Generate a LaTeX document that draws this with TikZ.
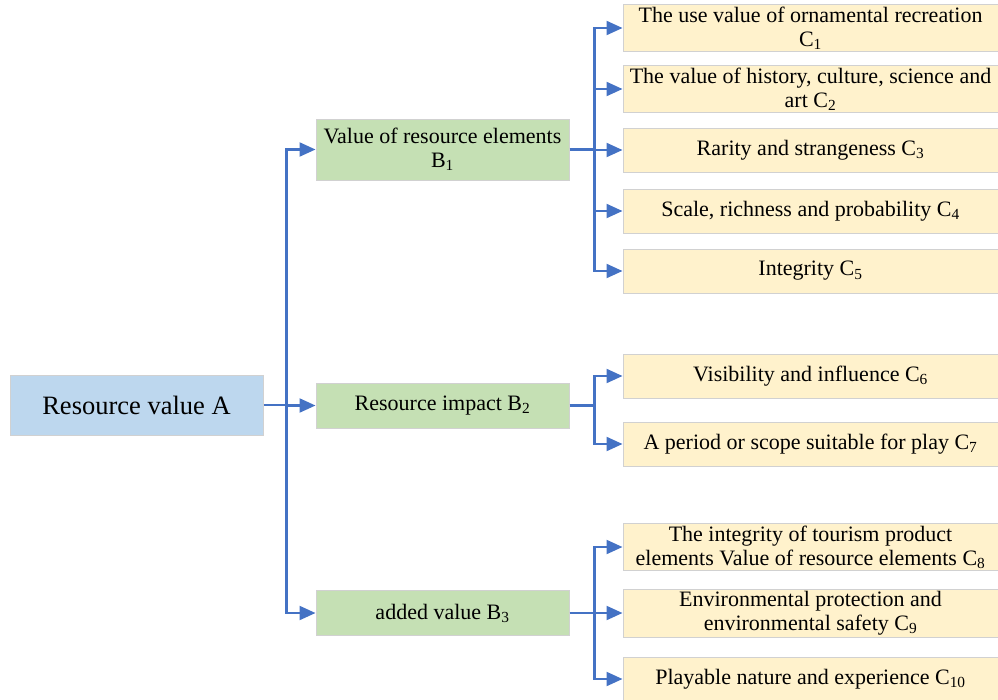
\documentclass[tikz,border=0pt]{standalone}
\usepackage{fontspec}
\setmainfont{Liberation Serif}
\usetikzlibrary{arrows.meta,calc}
\definecolor{goalblue}{HTML}{BDD7EE}
\definecolor{factorgreen}{HTML}{C5E0B4}
\definecolor{itemyellow}{HTML}{FFF2CC}
\definecolor{linkblue}{HTML}{4472C4}
\tikzset{
  box/.style={draw=black!18, line width=1pt, align=center, inner sep=2pt,
    font=\fontsize{22}{24}\selectfont},
  goalbox/.style={box, fill=goalblue, minimum width=253pt, minimum height=60pt,
    font=\fontsize{26.5}{28}\selectfont},
  factorbox/.style={box, fill=factorgreen, minimum width=253pt, minimum height=45pt},
  itembox/.style={box, fill=itemyellow, minimum width=375pt, minimum height=44pt},
  link/.style={draw=linkblue, line width=2.2pt},
  arrowlink/.style={link, -{Triangle[length=16pt,width=14pt]}},
}
\begin{document}
\begin{tikzpicture}[x=1pt,y=-1pt]
\useasboundingbox (0,0) rectangle (998,699);

% target layer
\node[goalbox] (a) at (136.5,405) {Resource value A};

% criterion layer
\node[factorbox, minimum height=61pt] (b1) at (442.5,149.5) {Value of resource elements\\B\textsubscript{1}};
\node[factorbox] (b2) at (442.5,405.5) {Resource impact B\textsubscript{2}};
\node[factorbox] (b3) at (442.5,613) {added value B\textsubscript{3}};

% indicator layer
\node[itembox] (c1) at (810.5,28) {The use value of ornamental recreation\\C\textsubscript{1}};
\node[itembox] (c2) at (810.5,89) {The value of history, culture, science and\\art C\textsubscript{2}};
\node[itembox] (c3) at (810.5,150) {Rarity and strangeness C\textsubscript{3}};
\node[itembox] (c4) at (810.5,211) {Scale, richness and probability C\textsubscript{4}};
\node[itembox] (c5) at (810.5,271) {Integrity C\textsubscript{5}};
\node[itembox] (c6) at (810.5,376) {Visibility and influence C\textsubscript{6}};
\node[itembox] (c7) at (810.5,444) {A period or scope suitable for play C\textsubscript{7}};
\node[itembox] (c8) at (810.5,547) {The integrity of tourism product\\elements Value of resource elements C\textsubscript{8}};
\node[itembox] (c9) at (810.5,613) {Environmental protection and\\environmental safety C\textsubscript{9}};
\node[itembox] (c10) at (810.5,679) {Playable nature and experience C\textsubscript{10}};

% connectors
\coordinate (ja) at ($(a.east)+(23,0)$);
\draw[link] (a.east) -- (ja);
\foreach \b in {b1,b2,b3}
  \draw[arrowlink] (ja) |- (\b.west);

\coordinate (jb1) at ($(b1.east)+(25,0)$);
\draw[link] (b1.east) -- (jb1);
\foreach \c in {c1,c2,c3,c4,c5}
  \draw[arrowlink] (jb1) |- (\c.west);

\coordinate (jb2) at ($(b2.east)+(25,0)$);
\draw[link] (b2.east) -- (jb2);
\foreach \c in {c6,c7}
  \draw[arrowlink] (jb2) |- (\c.west);

\coordinate (jb3) at ($(b3.east)+(25,0)$);
\draw[link] (b3.east) -- (jb3);
\foreach \c in {c8,c9,c10}
  \draw[arrowlink] (jb3) |- (\c.west);
\end{tikzpicture}
\end{document}
